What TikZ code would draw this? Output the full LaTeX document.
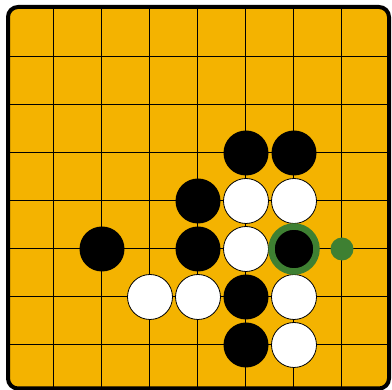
\documentclass[tikz,border=0pt]{standalone}
\usetikzlibrary{positioning}
\definecolor{boardgold}{RGB}{244,179,0}
\definecolor{markgreen}{RGB}{62,128,50}

\begin{document}
\begin{tikzpicture}[
  x=1pt, y=-1pt,
  stone/.style={circle, minimum size=45pt, inner sep=0pt},
  blackstone/.style={stone, fill=black},
  whitestone/.style={stone, fill=white, draw=black, line width=0.8pt},
  lastmove/.style={circle, minimum size=45pt, inner sep=0pt, draw=markgreen, line width=6.5pt},
  hint/.style={circle, fill=markgreen, minimum size=23pt, inner sep=0pt}
]
\useasboundingbox (0,0) rectangle (392,390);
\fill[boardgold, rounded corners=10pt] (8,7) rectangle (389,388.5);
\begin{scope}
  \clip (8,7) rectangle (389,388.5);
  \foreach \i in {0,...,6} {
    \draw[line width=1pt] (53.5+48*\i,7) -- (53.5+48*\i,388.5);
    \draw[line width=1pt] (8,57+48*\i) -- (389,57+48*\i);
  }
\end{scope}
\draw[line width=4pt, rounded corners=10pt] (8,7) rectangle (389,388.5);

% stones
\node[blackstone] (b1) at (246,153) {};
\node[blackstone] (b2) at (294,153) {};
\node[blackstone] (b3) at (198,201) {};
\node[whitestone] (w1) at (246,201) {};
\node[whitestone] (w2) at (294,201) {};
\node[blackstone] (b4) at (102,249) {};
\node[blackstone] (b5) at (198,249) {};
\node[whitestone] (w3) at (246,249) {};
\node[blackstone] (b6) at (294,249) {};
\node[whitestone] (w4) at (150,297) {};
\node[whitestone] (w5) at (198,297) {};
\node[blackstone] (b7) at (246,297) {};
\node[whitestone] (w6) at (294,297) {};
\node[blackstone] (b8) at (246,345) {};
\node[whitestone] (w7) at (294,345) {};

% markers
\node[lastmove] (last) at (b6.center) {};
\node[hint] (next) at (342,249) {};
\end{tikzpicture}
\end{document}
